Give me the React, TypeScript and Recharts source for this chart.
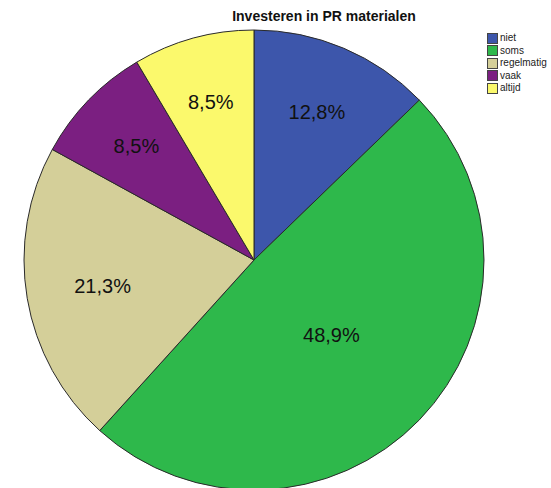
import React from "react";
import { Legend, Pie, PieChart } from "recharts";

const categories = ["niet", "soms", "regelmatig", "vaak", "altijd"];
const counts = [6, 23, 10, 4, 4];
const percentLabels = ["12,8%", "48,9%", "21,3%", "8,5%", "8,5%"];
const colors = ["#3d56ab", "#2eb84b", "#d4cf99", "#7b1f81", "#fbf96c"];

const data = categories.map((name, i) => ({ name, value: counts[i], label: percentLabels[i], fill: colors[i] }));

const RAD = Math.PI / 180;

// labels sit near the slice centroid, like the SPSS output
function renderLabel(props: any) {
  const { cx, cy, midAngle, outerRadius, startAngle, endAngle, index } = props;
  const half = (Math.abs(endAngle - startAngle) / 2) * RAD;
  const r = 0.72 * outerRadius * (Math.sin(half) / half);
  const x = cx + r * Math.cos(-midAngle * RAD);
  const y = cy + r * Math.sin(-midAngle * RAD);
  return (
    <text x={x} y={y} textAnchor="middle" dominantBaseline="central" fill="#111" fontSize={20} fontFamily="Liberation Sans, Arial, sans-serif">
      {data[index].label}
    </text>
  );
}

function LegendBox() {
  return (
    <div style={{ fontFamily: "Liberation Sans, Arial, sans-serif", fontSize: 10, color: "#222", lineHeight: "12.5px" }}>
      {data.map((d) => (
        <div key={d.name} style={{ display: "flex", alignItems: "center", height: 12.5 }}>
          <span style={{ display: "inline-block", width: 9, height: 9, background: d.fill, border: "1px solid #444", marginRight: 2 }} />
          <span>{d.name}</span>
        </div>
      ))}
    </div>
  );
}

export default function App() {
  return (
    <div style={{ position: "absolute", left: 0, top: 0, width: 551, height: 488, background: "#fff", overflow: "hidden" }}>
      <div
        style={{
          position: "absolute",
          top: 8,
          left: 224,
          width: 200,
          textAlign: "center",
          fontFamily: "Liberation Sans, Arial, sans-serif",
          fontWeight: "bold",
          fontSize: 14,
          color: "#111",
          whiteSpace: "nowrap",
        }}
      >
        Investeren in PR materialen
      </div>
      <PieChart width={551} height={488} margin={{ top: 0, right: 0, bottom: 0, left: 0 }}>
        <Pie
          data={data}
          dataKey="value"
          nameKey="name"
          cx={254}
          cy={260}
          outerRadius={230}
          startAngle={90}
          endAngle={-270}
          stroke="#2a2a2a"
          strokeWidth={1}
          label={renderLabel}
          labelLine={false}
          isAnimationActive={false}
        />
        <Legend
          layout="vertical"
          verticalAlign="top"
          align="right"
          content={() => <LegendBox />}
          wrapperStyle={{ position: "absolute", top: 32, left: 487, width: 64 }}
        />
      </PieChart>
    </div>
  );
}
